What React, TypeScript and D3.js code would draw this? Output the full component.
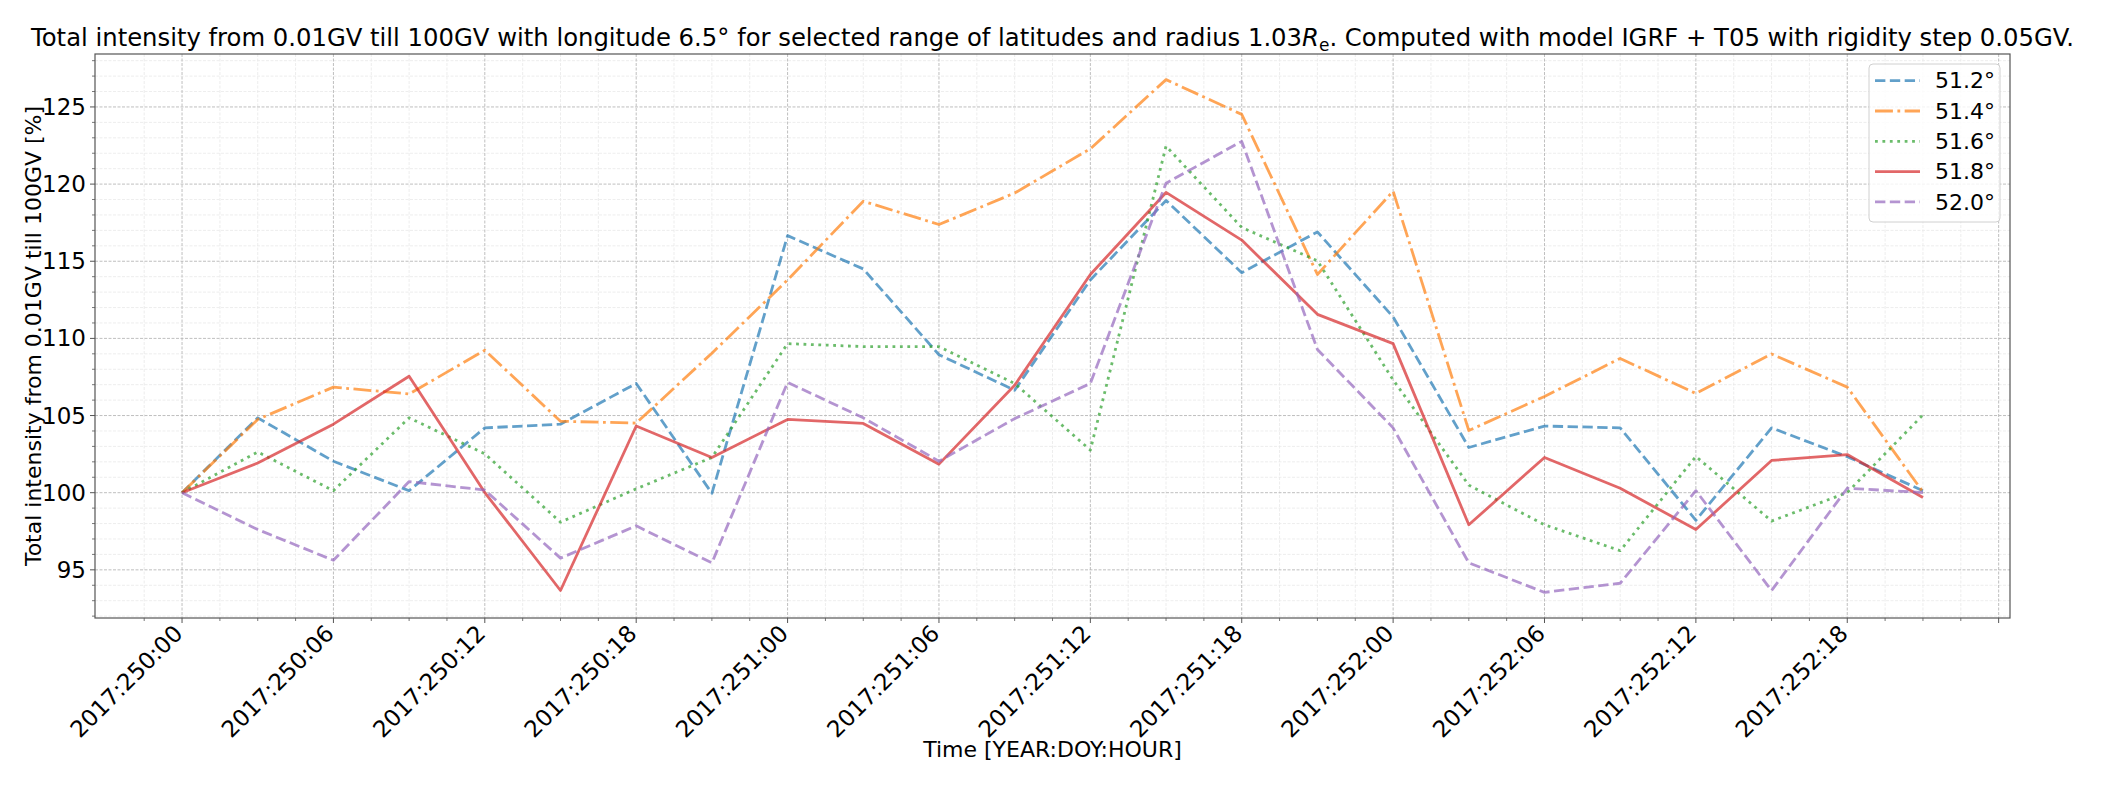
import * as d3 from "d3";

// hours since 2017:250:00, one sample every 3 hours
const hours = [0, 3, 6, 9, 12, 15, 18, 21, 24, 27, 30, 33, 36, 39, 42, 45, 48, 51, 54, 57, 60, 63, 66, 69];

const lat512 = [100, 104.85, 102.04, 100.13, 104.2, 104.44, 107.08, 99.96, 116.66, 114.5, 108.94, 106.64,
  113.79, 118.94, 114.26, 116.9, 111.39, 102.93, 104.32, 104.2, 98.21, 104.2, 102.33, 100.13];
const lat514 = [100, 104.75, 106.84, 106.4, 109.23, 104.63, 104.51, 109.04, 113.79, 118.89, 117.38, 119.42,
  122.29, 126.77, 124.52, 114.14, 119.54, 104.03, 106.24, 108.7, 106.43, 108.99, 106.84, 100.05];
const lat516 = [100, 102.64, 100.13, 104.85, 102.52, 98.09, 100.25, 102.28, 109.66, 109.47, 109.47, 107.08,
  102.76, 122.46, 117.19, 115.03, 107.31, 100.49, 97.92, 96.24, 102.35, 98.16, 100.01, 105.04];
const lat518 = [100, 101.92, 104.44, 107.55, 100.01, 93.66, 104.32, 102.28, 104.75, 104.49, 101.85, 106.96,
  114.14, 119.46, 116.37, 111.56, 109.66, 97.92, 102.28, 100.29, 97.61, 102.09, 102.47, 99.69];
const lat520 = [100, 97.61, 95.62, 100.72, 100.17, 95.76, 97.85, 95.45, 107.15, 104.85, 102.04, 104.8,
  107.08, 120.06, 122.77, 109.28, 104.2, 95.45, 93.54, 94.13, 100.13, 93.66, 100.29, 100.01];

const seriesNames = ["51.2°", "51.4°", "51.6°", "51.8°", "52.0°"];
const seriesValues = [lat512, lat514, lat516, lat518, lat520];

const xTickHours = [0, 6, 12, 18, 24, 30, 36, 42, 48, 54, 60, 66, 72];
const xTickLabels = ["2017:250:00", "2017:250:06", "2017:250:12", "2017:250:18", "2017:251:00", "2017:251:06",
  "2017:251:12", "2017:251:18", "2017:252:00", "2017:252:06", "2017:252:12", "2017:252:18"];
const yTicks = [95, 100, 105, 110, 115, 120, 125];

const colors = ["#1f77b4", "#ff7f0e", "#2ca02c", "#d62728", "#9467bd"];
const lw = 2.8;
const dashes = [
  `${3.7 * lw},${1.6 * lw}`,
  `${6.4 * lw},${1.6 * lw},${1 * lw},${1.6 * lw}`,
  `${1 * lw},${1.65 * lw}`,
  "",
  `${3.7 * lw},${1.6 * lw}`,
];

const W = 2101, H = 785;
const left = 95, right = 2010, top = 54, bottom = 618;
const font = "'DejaVu Sans', sans-serif";

export default function App() {
  const xExt = d3.extent(hours) as [number, number];
  const xPad = (xExt[1] - xExt[0]) * 0.05;
  const x = d3.scaleLinear().domain([xExt[0] - xPad, xExt[1] + xPad]).range([left, right]);

  const all = seriesValues.flat();
  const yExt = d3.extent(all) as [number, number];
  const yPad = (yExt[1] - yExt[0]) * 0.05;
  const y = d3.scaleLinear().domain([yExt[0] - yPad, yExt[1] + yPad]).range([bottom, top]);

  const line = d3.line<number>().x((_, i) => x(hours[i])).y(d => y(d));

  const xMinor = d3.range(-1.5, 73, 1.5).filter(h => h % 6 !== 0 && x(h) >= left && x(h) <= right);
  const yMinor = d3.range(92, 129, 1).filter(v => v % 5 !== 0 && y(v) >= top && y(v) <= bottom);

  const legX = 1869, legY = 64, legW = 131, legH = 158, rowH = 30.3;

  return (
    <svg width={W} height={H} style={{ position: "absolute", left: 0, top: 0 }} fontFamily={font}>
      <rect width={W} height={H} fill="#fff" />
      {/* minor grid */}
      {xMinor.map(h => (
        <line key={"xm" + h} x1={x(h)} x2={x(h)} y1={top} y2={bottom} stroke="#e8e8e8" strokeWidth={0.8} strokeDasharray="3,1.5" />
      ))}
      {yMinor.map(v => (
        <line key={"ym" + v} x1={left} x2={right} y1={y(v)} y2={y(v)} stroke="#e8e8e8" strokeWidth={0.8} strokeDasharray="3,1.5" />
      ))}
      {/* major grid */}
      {xTickHours.map(h => (
        <line key={"xg" + h} x1={x(h)} x2={x(h)} y1={top} y2={bottom} stroke="#b8b8b8" strokeWidth={0.9} strokeDasharray="3,1.5" />
      ))}
      {yTicks.map(v => (
        <line key={"yg" + v} x1={left} x2={right} y1={y(v)} y2={y(v)} stroke="#b8b8b8" strokeWidth={0.9} strokeDasharray="3,1.5" />
      ))}

      {/* series */}
      {seriesValues.map((vals, i) => (
        <path key={"s" + i} d={line(vals) || ""} fill="none" stroke={colors[i]} strokeOpacity={0.7}
          strokeWidth={lw} strokeDasharray={dashes[i] || undefined} strokeLinejoin="round" />
      ))}

      {/* spines */}
      <rect x={left} y={top} width={right - left} height={bottom - top} fill="none" stroke="#555" strokeWidth={1.2} />

      {/* x ticks */}
      {xMinor.map(h => (
        <line key={"xmt" + h} x1={x(h)} x2={x(h)} y1={bottom} y2={bottom + 3} stroke="#555" strokeWidth={0.8} />
      ))}
      {xTickHours.map((h, i) => (
        <g key={"xt" + h}>
          <line x1={x(h)} x2={x(h)} y1={bottom} y2={bottom + 5} stroke="#555" strokeWidth={1} />
          {xTickLabels[i] && (
            <text transform={`translate(${x(h) + 2},${bottom + 17}) rotate(-45)`} textAnchor="end" fontSize={23} fill="#000">
              {xTickLabels[i]}
            </text>
          )}
        </g>
      ))}
      {/* y ticks */}
      {yMinor.map(v => (
        <line key={"ymt" + v} x1={left - 3} x2={left} y1={y(v)} y2={y(v)} stroke="#555" strokeWidth={0.8} />
      ))}
      {yTicks.map(v => (
        <g key={"yt" + v}>
          <line x1={left - 5} x2={left} y1={y(v)} y2={y(v)} stroke="#555" strokeWidth={1} />
          <text x={left - 9} y={y(v)} dy="0.35em" textAnchor="end" fontSize={23} fill="#000">{v}</text>
        </g>
      ))}

      {/* labels */}
      <text x={(left + right) / 2} y={757} textAnchor="middle" fontSize={22}>Time [YEAR:DOY:HOUR]</text>
      <text transform={`translate(41,${(top + bottom) / 2}) rotate(-90)`} textAnchor="middle" fontSize={22}>
        Total intensity from 0.01GV till 100GV [%]
      </text>
      <text x={(left + right) / 2} y={46} textAnchor="middle" fontSize={24.3}>
        Total intensity from 0.01GV till 100GV with longitude 6.5° for selected range of latitudes and radius 1.03
        <tspan fontStyle="italic">R</tspan>
        <tspan fontSize={17} dy={5}>e</tspan>
        <tspan dy={-5}>. Computed with model IGRF + T05 with rigidity step 0.05GV.</tspan>
      </text>

      {/* legend */}
      <rect x={legX} y={legY} width={legW} height={legH} rx={4} fill="#fff" fillOpacity={0.8} stroke="#d0d0d0" strokeWidth={1} />
      {seriesNames.map((name, i) => {
        const cy = legY + 16.7 + i * rowH;
        return (
          <g key={"lg" + i}>
            <line x1={legX + 6} x2={legX + 51} y1={cy} y2={cy} stroke={colors[i]} strokeOpacity={0.7} strokeWidth={lw}
              strokeDasharray={dashes[i] || undefined} />
            <text x={legX + 66} y={cy} dy="0.35em" fontSize={22}>{name}</text>
          </g>
        );
      })}
    </svg>
  );
}
